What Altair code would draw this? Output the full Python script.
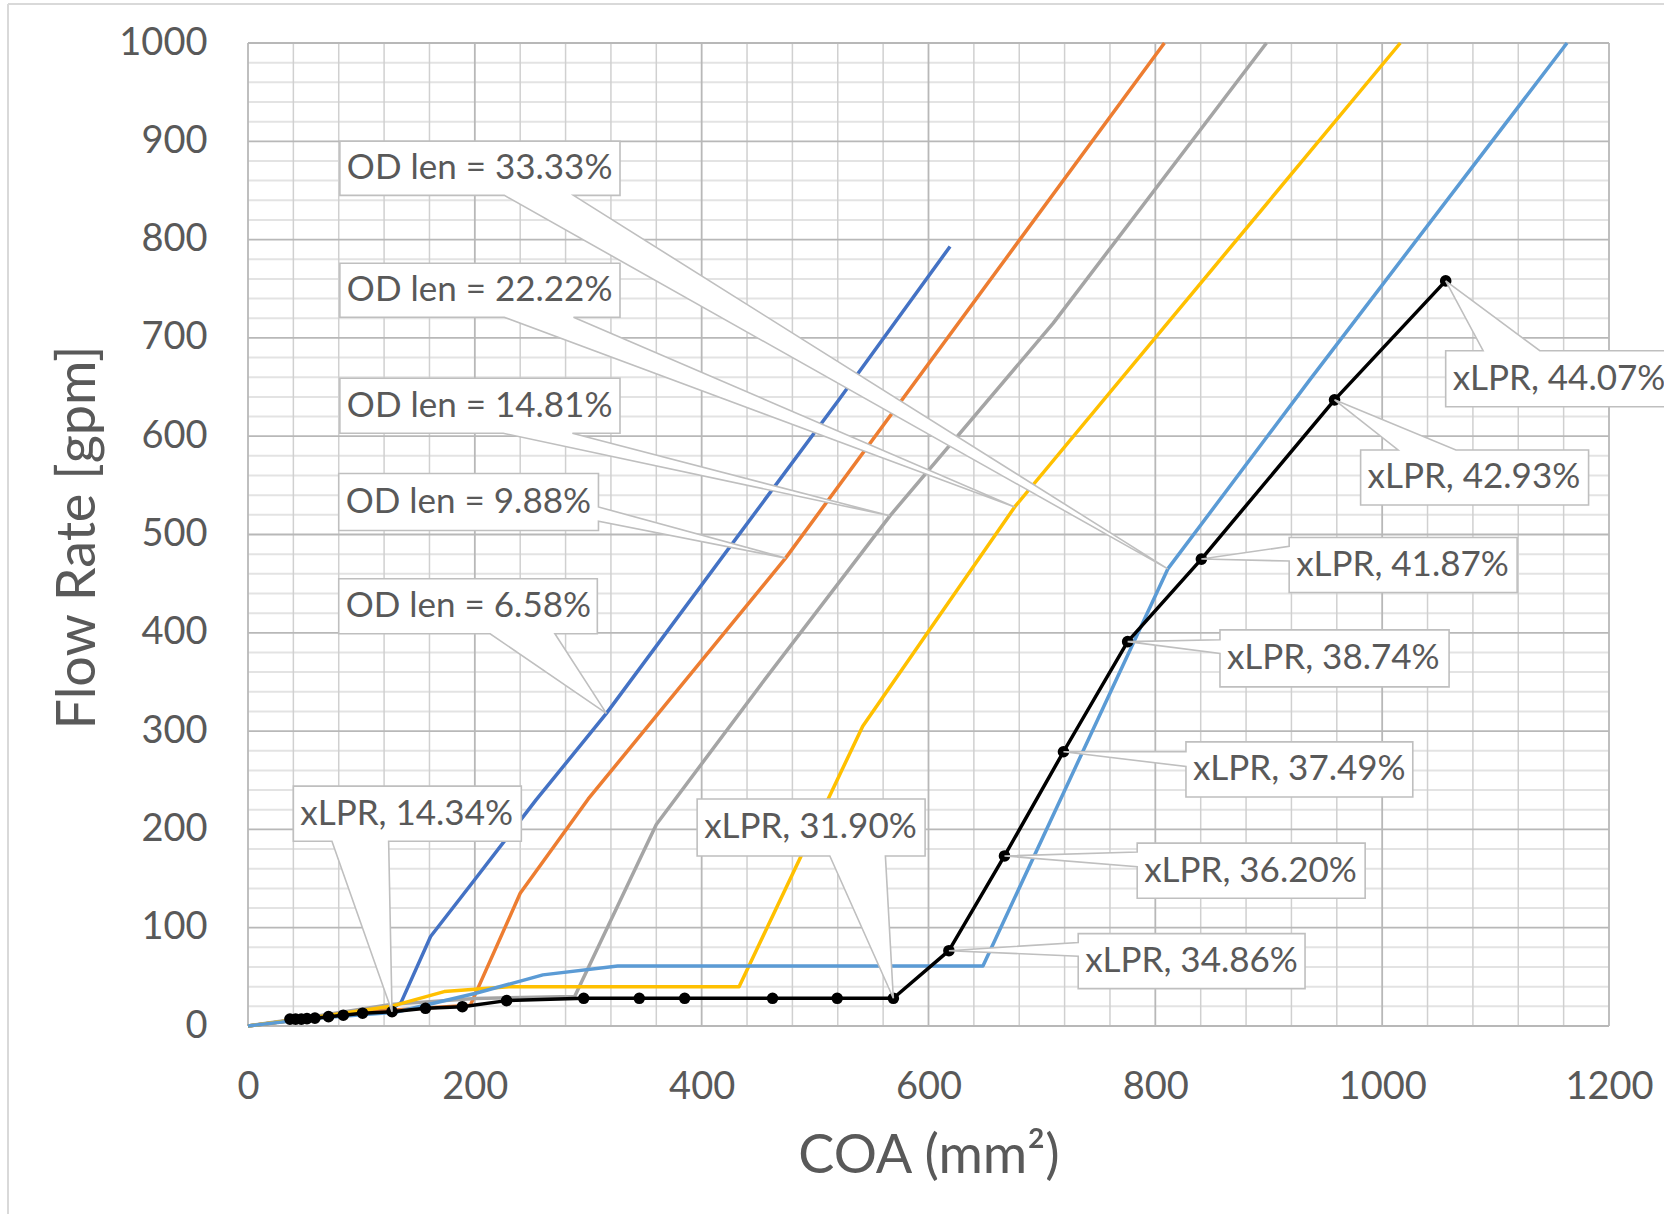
import altair as alt
import pandas as pd

# ---------------------------------------------------------------
# Flow rate vs. crack opening area (COA)
# ---------------------------------------------------------------
od658_x = [0, 60, 126, 135, 161, 200, 254, 316, 521, 619]
od658_y = [0, 9, 17, 24, 91, 149, 230, 318, 637, 793]

od988_x = [0, 60, 126, 196, 240, 300, 474, 808]
od988_y = [0, 9, 16, 21, 135, 231, 476, 1000]

od1481_x = [0, 60, 126, 200, 288, 360, 454, 566, 710, 898]
od1481_y = [0, 10, 22, 28, 30, 205, 350, 519, 715, 1000]

od2222_x = [0, 60, 126, 173, 230, 433, 542, 676, 1016]
od2222_y = [0, 9, 20, 35, 40, 40, 305, 528, 1000]

od3333_x = [0, 60, 130, 200, 260, 326, 648, 811, 936, 1163]
od3333_y = [0, 8, 14, 33, 52, 61, 61, 465, 657, 1000]

xlpr_x = [37, 42, 47, 52, 59, 71, 84, 101, 127, 156.5, 189, 228, 296, 345, 385,
          462.5, 519.5, 569, 618, 667, 719, 775.6, 840.6, 958, 1056]
xlpr_y = [7, 7, 7, 7.5, 8, 9.5, 11, 13, 14.6, 18, 19.6, 25.8, 28.2, 28.2, 28.2,
          28.2, 28.2, 28.2, 76.6, 173, 279, 391, 475, 637, 758]

series_names = ["od658", "od988", "od1481", "od2222", "od3333"]
series_x = {"od658": od658_x, "od988": od988_x, "od1481": od1481_x,
            "od2222": od2222_x, "od3333": od3333_x, "xlpr": xlpr_x}
series_y = {"od658": od658_y, "od988": od988_y, "od1481": od1481_y,
            "od2222": od2222_y, "od3333": od3333_y, "xlpr": xlpr_y}
series_colors = {"od658": "#4472C4", "od988": "#ED7D31", "od1481": "#A5A5A5",
                 "od2222": "#FFC000", "od3333": "#5B9BD5"}

# ---------------------------------------------------------------
# Callout labels (text, box extent in data units, wedge, target point)
# ---------------------------------------------------------------
callout_text = ["OD len = 33.33%", "OD len = 22.22%", "OD len = 14.81%",
                "OD len = 9.88%", "OD len = 6.58%",
                "xLPR, 14.34%", "xLPR, 31.90%", "xLPR, 34.86%", "xLPR, 36.20%",
                "xLPR, 37.49%", "xLPR, 38.74%", "xLPR, 41.87%", "xLPR, 42.93%",
                "xLPR, 44.07%"]
box_x0 = [81, 81, 81, 80, 80, 40, 396, 732, 784, 827, 857, 918, 981, 1056]
box_x1 = [328, 328, 328, 309, 308, 241, 597, 932, 985, 1027, 1059, 1119, 1182, 1257]
box_y0 = [845, 721, 603, 504, 399, 188, 173, 38, 130, 233, 345, 441, 530, 630]
box_y1 = [900, 776, 659, 562, 455, 244, 231, 94, 186, 289, 403, 497, 586, 687]
wedge_side = ["bottom", "bottom", "bottom", "right", "bottom", "bottom", "bottom",
              "left", "left", "left", "left", "left", "top", "top"]
wedge_a = [226, 226, 225, 513.5, 213.5, 74, 513, 71, 162, 264, 379, 473, 1014, 1089]
wedge_b = [287, 287, 286, 528, 270.6, 124, 562, 85, 177, 279, 393, 488, 1065, 1139]
tip_series = ["od3333", "od2222", "od1481", "od988", "od658",
              "xlpr", "xlpr", "xlpr", "xlpr", "xlpr", "xlpr", "xlpr", "xlpr", "xlpr"]
tip_index = [7, 7, 7, 6, 7, 8, 17, 18, 19, 20, 21, 22, 23, 24]

# ---------------------------------------------------------------
TEXT_COLOR = "#595959"
FONT = "Lato"

xs = alt.Scale(domain=[0, 1200], nice=False, zero=False)
ys = alt.Scale(domain=[0, 1000], nice=False, zero=False)

x_axis = alt.Axis(values=list(range(0, 1201, 200)), format="d", grid=False, ticks=False,
                  domain=False, labelFont=FONT, labelFontSize=38, labelColor=TEXT_COLOR,
                  labelPadding=42, labelFlush=False, labelOverlap=False,
                  title="COA (mm²)", titleFont=FONT, titleFontSize=54, titleColor=TEXT_COLOR,
                  titleFontWeight="normal", titleBaseline="alphabetic", titleY=146)
y_axis = alt.Axis(values=list(range(0, 1001, 100)), format="d", grid=False, ticks=False,
                  domain=False, labelFont=FONT, labelFontSize=38, labelColor=TEXT_COLOR,
                  labelPadding=41, labelFlush=False, labelOverlap=False,
                  title="Flow Rate [gpm]", titleFont=FONT, titleFontSize=54, titleColor=TEXT_COLOR,
                  titleFontWeight="normal", titleBaseline="alphabetic", titleX=-154, titleY=494,
                  titleAngle=270)

X = alt.X("x:Q", scale=xs, axis=x_axis)
Y = alt.Y("y:Q", scale=ys, axis=y_axis)

# --- gridlines ---
v_minor = pd.DataFrame({"x": [v for v in range(40, 1200, 40) if v % 200]})
v_major = pd.DataFrame({"x": list(range(0, 1201, 200))})
h_minor = pd.DataFrame({"y": [v for v in range(20, 1000, 20) if v % 100]})
h_major = pd.DataFrame({"y": list(range(0, 1001, 100))})

grid_h_minor = alt.Chart(h_minor).mark_rule(color="#e3e3e3", strokeWidth=2).encode(y=Y)
grid_v_minor = alt.Chart(v_minor).mark_rule(color="#d0d0d0", strokeWidth=1.5).encode(x=X)
grid_v_major = alt.Chart(v_major).mark_rule(color="#b8b8b8", strokeWidth=1.8).encode(x=X)
grid_h_major = alt.Chart(h_major).mark_rule(color="#b8b8b8", strokeWidth=1.8).encode(y=Y)

# --- outer chart frame ---
frame_df = pd.DataFrame({"k": [0]})
frame_top = alt.Chart(frame_df).mark_rule(color="#d9d9d9", strokeWidth=2).encode(
    x=alt.value(-240), x2=alt.value(1420), y=alt.value(-39))
frame_left = alt.Chart(frame_df).mark_rule(color="#d9d9d9", strokeWidth=2).encode(
    x=alt.value(-240), y=alt.value(-39), y2=alt.value(1175))

# --- series lines ---
line_layers = []
for name in series_names:
    df = pd.DataFrame({"x": series_x[name], "y": series_y[name], "i": range(len(series_x[name]))})
    line_layers.append(
        alt.Chart(df).mark_line(color=series_colors[name], strokeWidth=3.5, strokeJoin="round")
        .encode(x=X, y=Y, order="i:Q"))

xlpr_df = pd.DataFrame({"x": xlpr_x, "y": xlpr_y, "i": range(len(xlpr_x))})
xlpr_line = alt.Chart(xlpr_df).mark_line(color="black", strokeWidth=3.5, strokeJoin="round").encode(
    x=X, y=Y, order="i:Q")
xlpr_pts = alt.Chart(xlpr_df).mark_circle(color="black", size=135, opacity=1).encode(x=X, y=Y)

# --- callouts: one closed outline per label (box + wedge) ---
rows = []
for k in range(len(callout_text)):
    x0, x1, y0, y1 = box_x0[k], box_x1[k], box_y0[k], box_y1[k]
    a, b = wedge_a[k], wedge_b[k]
    s = tip_series[k]
    tip = (series_x[s][tip_index[k]], series_y[s][tip_index[k]])
    side = wedge_side[k]
    if side == "bottom":
        pts = [(x0, y1), (x1, y1), (x1, y0), (b, y0), tip, (a, y0), (x0, y0)]
    elif side == "top":
        pts = [(x0, y1), (a, y1), tip, (b, y1), (x1, y1), (x1, y0), (x0, y0)]
    elif side == "left":
        pts = [(x0, y1), (x1, y1), (x1, y0), (x0, y0), (x0, a), tip, (x0, b)]
    else:
        pts = [(x0, y1), (x1, y1), (x1, b), tip, (x1, a), (x1, y0), (x0, y0)]
    for j, (px, py) in enumerate(pts):
        rows.append({"id": k, "seq": j, "x": px, "y": py})
callout_df = pd.DataFrame(rows)

callout_shapes = alt.Chart(callout_df).mark_line(
    interpolate="linear-closed", fill="white", stroke="#bfbfbf", strokeWidth=1.6,
    strokeJoin="miter").encode(x=X, y=Y, detail="id:N", order="seq:Q")

# text sits just inside the left edge of each box
label_df = pd.DataFrame({
    "x": box_x0,
    "y": [(a + b) / 2 for a, b in zip(box_y0, box_y1)],
    "t": callout_text,
})
callout_labels = alt.Chart(label_df).mark_text(
    font=FONT, fontSize=35, color=TEXT_COLOR, align="left", baseline="middle", dx=7).encode(
    x=X, y=Y, text="t:N")

chart = alt.layer(
    grid_h_minor, grid_v_minor, grid_v_major, grid_h_major,
    *line_layers, xlpr_line, xlpr_pts,
    callout_shapes, callout_labels,
    frame_top, frame_left,
).properties(
    width=1361, height=983,
    autosize=alt.AutoSizeParams(type="none"),
    padding={"left": 248, "top": 43, "right": 55, "bottom": 188},
    background="white",
).configure_view(stroke=None)

chart.save("out.html", embed_options={"renderer": "svg", "actions": False})
